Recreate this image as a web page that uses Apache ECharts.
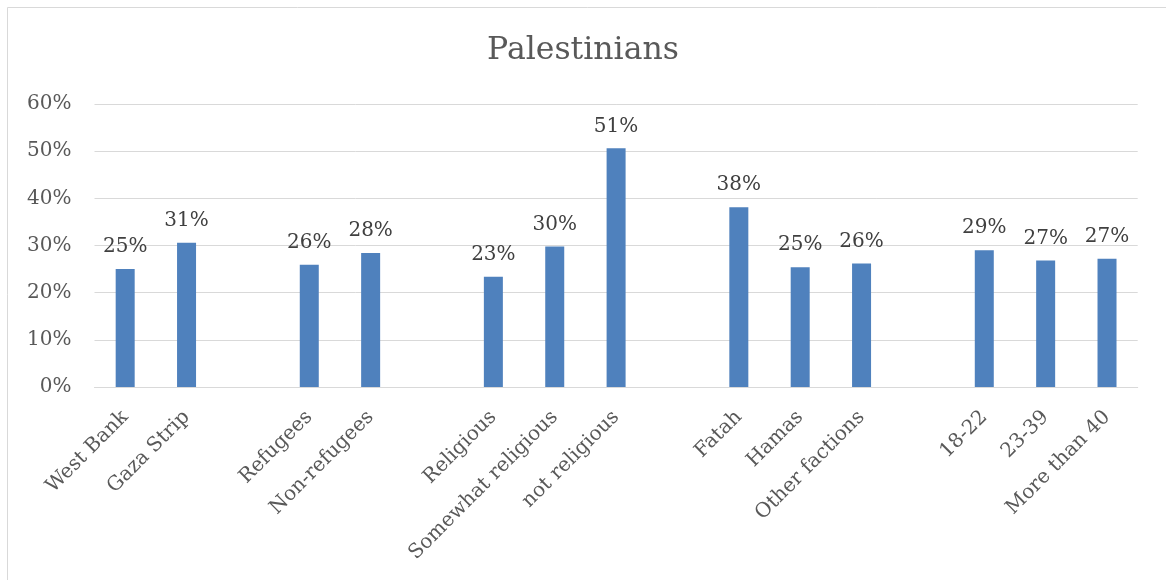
<!DOCTYPE html>
<html>
<head>
<meta charset="utf-8">
<script src="https://cdn.jsdelivr.net/npm/echarts@6/dist/echarts.min.js"></script>
<style>html,body{margin:0;padding:0;background:#fff}#c{width:1166px;height:580px}</style>
</head>
<body>
<div id="c"></div>
<script>
const categories = ['West Bank','Gaza Strip','','Refugees','Non-refugees','','Religious','Somewhat religious','not religious','','Fatah','Hamas','Other factions','','18-22','23-39','More than 40'];
const values = [25.0, 30.6, null, 25.9, 28.4, null, 23.4, 29.8, 50.6, null, 38.1, 25.4, 26.2, null, 29.0, 26.8, 27.2];
const yTicks = [0, 10, 20, 30, 40, 50, 60];
const titleText = 'Palestinians';

const font = 'DejaVu Serif';
const chart = echarts.init(document.getElementById('c'));
chart.setOption({
  animation: false,
  backgroundColor: '#fff',
  graphic: [{
    type: 'rect', shape: {x: 7.5, y: 7.5, width: 1200, height: 620},
    style: {fill: 'none', stroke: '#d9d9d9', lineWidth: 1}, silent: true
  }],
  title: {
    text: titleText, left: 'center', top: 30,
    textStyle: {fontFamily: font, fontSize: 31.5, fontWeight: 'normal', color: '#595959'}
  },
  grid: {left: 94.5, right: 28.3, top: 104, bottom: 193, containLabel: false},
  xAxis: {
    type: 'category', data: categories,
    axisTick: {show: false},
    axisLine: {lineStyle: {color: '#d9d9d9', width: 1}},
    axisLabel: {interval: 0, rotate: 45, fontFamily: font, fontSize: 20, color: '#595959', margin: 27}
  },
  yAxis: {
    type: 'value', min: yTicks[0], max: yTicks[yTicks.length - 1], interval: 10,
    axisLine: {show: false}, axisTick: {show: false},
    splitLine: {lineStyle: {color: '#d9d9d9', width: 1}},
    axisLabel: {formatter: v => v + '%', fontFamily: font, fontSize: 20, color: '#595959', margin: 23}
  },
  series: [{
    type: 'bar', data: values, barWidth: 19,
    itemStyle: {color: '#4f81bd'},
    label: {
      show: true, position: 'top', distance: 12,
      formatter: p => Math.round(p.value) + '%',
      fontFamily: font, fontSize: 20, color: '#404040'
    }
  }]
});
</script>
</body>
</html>
